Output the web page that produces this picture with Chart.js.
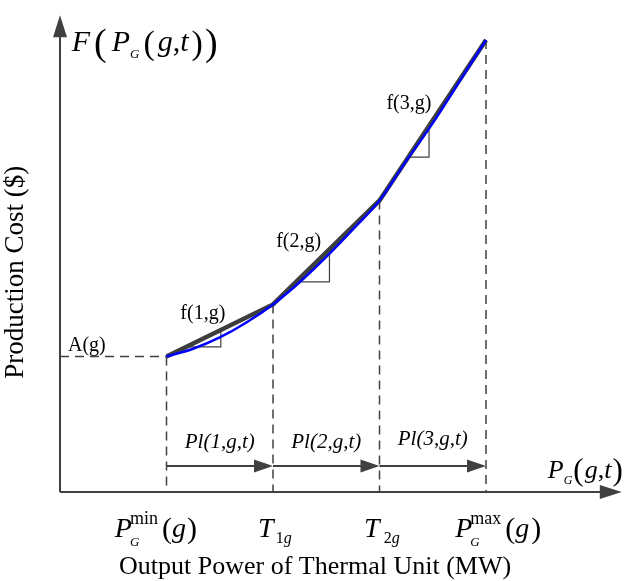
<!DOCTYPE html>
<html>
<head>
<meta charset="utf-8">
<script src="https://cdn.jsdelivr.net/npm/chart.js@4.4.1/dist/chart.umd.min.js"></script>
<style>
  body { margin: 0; background: #fff; }
  canvas { display: block; }
</style>
</head>
<body>
<canvas id="costChart" width="630" height="581"></canvas>
<script>
// Breakpoints on the power axis: Pmin, T1g, T2g, Pmax
const breakPower = [20, 40, 60, 80];
const breakCost = [30, 41.5, 64.5, 100];

const curvePower = [20, 25, 30, 35, 40, 45, 50, 55, 60, 65, 70, 75, 80];
const curveCost = [30, 31.7, 34.2, 37.5, 41.5, 46.4, 52.0, 58.1, 64.5, 73.2, 81.6, 90.8, 100];

// Little slope markers under each linear piece
const slopeX = [[23.6, 30.2, 30.2], [44.3, 50.6, 50.6], [65.4, 69.3, 69.3]];
const slopeY = [[32.1, 32.1, 35.9], [46.5, 46.5, 53.7], [74.1, 74.1, 81.0]];

const slopeNames = ['f(1,g)', 'f(2,g)', 'f(3,g)'];
const pieceNames = ['Pl(1,g,t)', 'Pl(2,g,t)', 'Pl(3,g,t)'];
const fixedCostName = 'A(g)';
const arrowLevel = 5.75;

const dark = '#404040';
const serif = '"Liberation Serif", "DejaVu Serif", serif';

const pts = (xs, ys) => xs.map((x, i) => ({ x: x, y: ys[i] }));

const datasets = [];

// blue curve first so it sits on top
datasets.push({
    data: pts(curvePower, curveCost),
    borderColor: '#0000ff',
    borderWidth: 2.5,
    cubicInterpolationMode: 'monotone'
});

// piecewise linear approximation
datasets.push({
    data: pts(breakPower, breakCost),
    borderColor: '#3d3d3d',
    borderWidth: 4.5
});

// slope markers
slopeX.forEach((xs, i) => {
    datasets.push({ data: pts(xs, slopeY[i]), borderColor: dark, borderWidth: 1.2 });
});

// dashed guides
datasets.push({
    data: [{ x: 0, y: breakCost[0] }, { x: breakPower[0], y: breakCost[0] }],
    borderColor: dark, borderWidth: 1.5, borderDash: [9, 6]
});
breakPower.forEach((p, i) => {
    datasets.push({
        data: [{ x: p, y: breakCost[i] }, { x: p, y: 0 }],
        borderColor: dark, borderWidth: 1.5, borderDash: [9, 6]
    });
});

// length arrows between breakpoints
for (let i = 0; i < 3; i++) {
    datasets.push({
        data: [{ x: breakPower[i], y: arrowLevel }, { x: breakPower[i + 1] - 2.5, y: arrowLevel }],
        borderColor: dark, borderWidth: 2
    });
}

// axes
datasets.push({ data: [{ x: 0, y: 0 }, { x: 102, y: 0 }], borderColor: dark, borderWidth: 2 });
datasets.push({ data: [{ x: 0, y: 0 }, { x: 0, y: 102 }], borderColor: dark, borderWidth: 2 });

// draw a row of text pieces, a piece may stack a super- and subscript
function drawRuns(ctx, x, y, parts) {
    parts.forEach(p => {
        if (p.stack) {
            let w = 0;
            p.stack.forEach(s => {
                ctx.font = s.f;
                ctx.fillText(s.t, x, y + s.dy);
                w = Math.max(w, ctx.measureText(s.t).width);
            });
            x += w + (p.sp || 0);
        } else {
            ctx.font = p.f;
            ctx.fillText(p.t, x, y + (p.dy || 0));
            x += ctx.measureText(p.t).width + (p.sp || 0);
        }
    });
}

function arrowHead(ctx, tipX, tipY, dir, len, half) {
    ctx.beginPath();
    if (dir === 'right') {
        ctx.moveTo(tipX, tipY);
        ctx.lineTo(tipX - len, tipY - half);
        ctx.lineTo(tipX - len, tipY + half);
    } else {
        ctx.moveTo(tipX, tipY);
        ctx.lineTo(tipX - half, tipY + len);
        ctx.lineTo(tipX + half, tipY + len);
    }
    ctx.closePath();
    ctx.fill();
}

const decorations = {
    id: 'decorations',
    afterDatasetsDraw(chart) {
        const ctx = chart.ctx;
        const xs = chart.scales.x, ys = chart.scales.y;
        const X = v => xs.getPixelForValue(v);
        const Y = v => ys.getPixelForValue(v);
        const it = s => 'italic ' + s + 'px ' + serif;
        const rm = s => s + 'px ' + serif;

        ctx.save();
        ctx.fillStyle = dark;
        // axis arrowheads
        arrowHead(ctx, X(105.5), Y(0), 'right', 22, 7);
        arrowHead(ctx, X(0), Y(105.5), 'up', 22, 7);
        // segment arrowheads
        for (let i = 1; i < 4; i++) arrowHead(ctx, X(breakPower[i]), Y(arrowLevel), 'right', 19, 6.5);

        ctx.fillStyle = '#000';
        ctx.textBaseline = 'alphabetic';
        ctx.textAlign = 'left';

        // y-axis symbol F(P_G(g,t))
        drawRuns(ctx, X(2.2), Y(97.6), [
            { t: 'F', f: it(30), sp: 4 },
            { t: '(', f: rm(38), dy: 4, sp: 5 },
            { t: 'P', f: it(30) },
            { t: 'G', f: it(13), dy: 7, sp: 4 },
            { t: '(', f: rm(34), dy: 3, sp: 3 },
            { t: 'g', f: it(30) },
            { t: ',', f: rm(30) },
            { t: 't', f: it(30), sp: 3 },
            { t: ')', f: rm(34), dy: 3, sp: 2 },
            { t: ')', f: rm(38), dy: 4 }
        ]);

        // x-axis symbol P_G(g,t)
        drawRuns(ctx, X(91.6), Y(3.1), [
            { t: 'P', f: it(26) },
            { t: 'G', f: it(12), dy: 6, sp: 1 },
            { t: '(', f: rm(31), dy: 2, sp: 1 },
            { t: 'g', f: it(26) },
            { t: ',', f: rm(26) },
            { t: 't', f: it(26), sp: 1 },
            { t: ')', f: rm(31), dy: 2 }
        ]);

        // tick symbols below the axis
        drawRuns(ctx, X(10.3), Y(-10), [
            { t: 'P', f: it(28), sp: -2 },
            { stack: [{ t: 'min', f: rm(18), dy: -13 }, { t: 'G', f: it(13), dy: 9 }], sp: 4 },
            { t: '(', f: rm(30), dy: 1 },
            { t: 'g', f: it(28), sp: 1 },
            { t: ')', f: rm(30), dy: 1 }
        ]);
        drawRuns(ctx, X(37.2), Y(-10), [
            { t: 'T', f: it(28), sp: 2 },
            { t: '1', f: rm(16), dy: 6 },
            { t: 'g', f: it(16), dy: 6 }
        ]);
        drawRuns(ctx, X(57.1), Y(-10), [
            { t: 'T', f: it(28), sp: 4 },
            { t: '2', f: rm(16), dy: 6 },
            { t: 'g', f: it(16), dy: 6 }
        ]);
        drawRuns(ctx, X(74.2), Y(-10), [
            { t: 'P', f: it(28), sp: -2 },
            { stack: [{ t: 'max', f: rm(18), dy: -13 }, { t: 'G', f: it(13), dy: 9 }], sp: 4 },
            { t: '(', f: rm(30), dy: 1 },
            { t: 'g', f: it(28), sp: 2 },
            { t: ')', f: rm(30), dy: 1 }
        ]);

        // slope names
        const slopeAt = [[22.6, 38.3], [40.6, 54.2], [61.3, 84.7]];
        ctx.font = rm(20);
        slopeNames.forEach((s, i) => ctx.fillText(s, X(slopeAt[i][0]), Y(slopeAt[i][1])));
        ctx.fillText(fixedCostName, X(1.5), Y(31.2));

        // piece length names
        ctx.textAlign = 'center';
        ctx.font = it(21);
        pieceNames.forEach((s, i) => {
            const mid = (breakPower[i] + breakPower[i + 1]) / 2;
            ctx.fillText(s, X(mid), Y(i === 2 ? 10.5 : 9.8));
        });

        // axis titles
        ctx.font = rm(26);
        ctx.fillText('Output Power of Thermal Unit (MW)', X(47.9), Y(-18.2));
        ctx.save();
        ctx.translate(X(-6.9), Y(48.6));
        ctx.rotate(-Math.PI / 2);
        ctx.font = rm(27);
        ctx.fillText('Production Cost ($)', 0, 0);
        ctx.restore();

        ctx.restore();
    }
};

new Chart(document.getElementById('costChart'), {
    type: 'line',
    data: { datasets: datasets.map(d => Object.assign({ pointRadius: 0, fill: false, tension: 0 }, d)) },
    options: {
        responsive: false,
        animation: false,
        devicePixelRatio: 1,
        layout: { padding: 0 },
        plugins: { legend: { display: false }, tooltip: { enabled: false } },
        scales: {
            x: { type: 'linear', min: -11.27, max: 107.04, display: false },
            y: { type: 'linear', min: -19.69, max: 108.85, display: false }
        }
    },
    plugins: [decorations]
});
</script>
</body>
</html>
